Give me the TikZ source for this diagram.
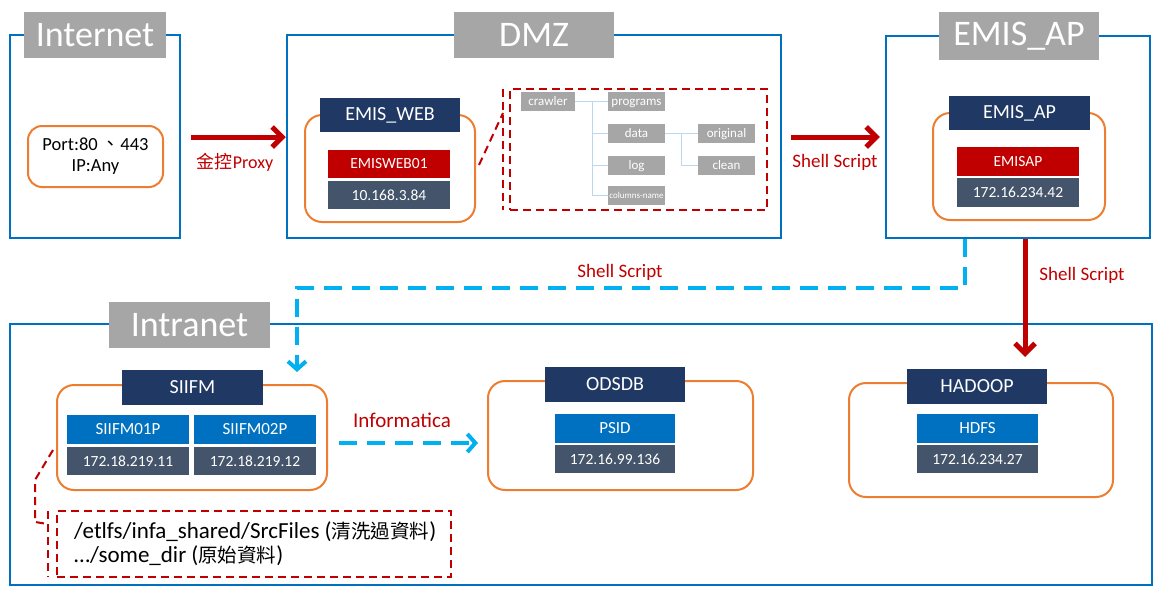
\documentclass[tikz,border=0pt]{standalone}
\usepackage{fontspec}
\setmainfont{Carlito}
\newfontfamily\cjk{Noto Sans CJK TC}
\usetikzlibrary{arrows.meta}
\definecolor{frameblue}{HTML}{0070C0}
\definecolor{titlegray}{HTML}{A6A6A6}
\definecolor{orng}{HTML}{ED7D31}
\definecolor{navy}{HTML}{203864}
\definecolor{srvred}{HTML}{C00000}
\definecolor{slate}{HTML}{44546A}
\definecolor{hostblue}{HTML}{0070C0}
\definecolor{lblue}{HTML}{00B0F0}
\definecolor{treegray}{HTML}{A6A6A6}
\definecolor{treeline}{HTML}{BDD7EE}
\begin{document}
\begin{tikzpicture}[x=1pt,y=-1pt,
  frame/.style={draw=frameblue, line width=2.5pt, inner sep=0pt},
  zonetitle/.style={fill=titlegray, text=white, inner sep=0pt, font=\fontsize{36}{38}\selectfont},
  group/.style={draw=orng, line width=2pt, rounded corners=17pt, fill=white, inner sep=0pt},
  hdr/.style={fill=navy, text=white, inner sep=0pt, minimum width=140pt, minimum height=34pt, font=\fontsize{20}{22}\selectfont},
  srv/.style={fill=srvred, text=white, inner sep=0pt, minimum width=122pt, minimum height=28pt, font=\fontsize{15.5}{17}\selectfont},
  host/.style={fill=hostblue, text=white, inner sep=0pt, minimum width=122pt, minimum height=29pt, font=\fontsize{17}{19}\selectfont},
  ip/.style={fill=slate, text=white, inner sep=0pt, minimum width=122pt, minimum height=28pt, font=\fontsize{15.5}{17}\selectfont},
  tbox/.style={fill=treegray, text=white, inner sep=0pt, minimum width=57pt, minimum height=19pt, text height=10pt, text depth=1.5pt, font=\fontsize{13}{15}\selectfont},
  tline/.style={draw=treeline, line width=1pt},
  redarrow/.style={draw=srvred, line width=5pt, -{Straight Barb[length=10pt,width=20pt]}},
  bluearrow/.style={draw=lblue, line width=4pt, dash pattern=on 18pt off 10pt, -{Straight Barb[length=8pt,width=18pt]}},
  lbl/.style={text=srvred, font=\fontsize{19}{21}\selectfont},
  callout/.style={draw=srvred, line width=2pt, dash pattern=on 8pt off 5pt}
]
\useasboundingbox (0,0) rectangle (1164,595);

% ---------------- Internet ----------------
\node[frame, minimum width=170pt, minimum height=203pt] (inet) at (95,136.5) {};
\node[zonetitle, minimum width=142pt, minimum height=46pt] (inettitle) at (95,35) {Internet};
\node[group, rounded corners=14pt, minimum width=135pt, minimum height=61pt, align=center, font=\fontsize{18.5}{21}\selectfont] (port) at (95.5,156.5) {Port:80 {\cjk 、}443\\IP:Any};

% ---------------- DMZ ----------------
\node[frame, minimum width=494pt, minimum height=203pt] (dmz) at (534,136.5) {};
\node[zonetitle, minimum width=160pt, minimum height=46pt] (dmztitle) at (534,35) {DMZ};
\node[group, minimum width=170pt, minimum height=107pt] (webgrp) at (390,168.5) {};
\node[hdr] (webhdr) at (390,115) {EMIS\_WEB};
\node[srv] (websrv) at (389,164) {EMISWEB01};
\node[ip] (webip) at (389,195) {10.168.3.84};

% directory tree callout
\node[callout, minimum width=257pt, minimum height=121pt, inner sep=0pt] (tree) at (638.5,149.5) {};
\coordinate (treeL1) at (503,89);
\coordinate (treeL2) at (503,210);
\draw[callout] (treeL1) -- (treeL2);
\coordinate (webcall) at (479,165);
\coordinate (treecall) at (503,113);
\draw[callout] (webcall) -- (treecall);

\node[tbox, minimum width=54pt] (crawler) at (548,101.5) {crawler};
\node[tbox] (programs) at (636.5,101.5) {programs};
\node[tbox] (data) at (636.5,133.5) {data};
\node[tbox] (log) at (636.5,165.5) {log};
\node[tbox, font=\fontsize{9}{11}\selectfont, text height=7pt, text depth=1pt] (colname) at (636.5,195.5) {columns-name};
\node[tbox] (original) at (726.5,133.5) {original};
\node[tbox] (clean) at (726.5,165.5) {clean};
\draw[tline] (crawler.east) -- (programs.west);
\draw[tline] (592,101.5) |- (data.west);
\draw[tline] (592,101.5) |- (log.west);
\draw[tline] (592,101.5) |- (colname.west);
\draw[tline] (data.east) -- (original.west);
\draw[tline] (681,133.5) |- (clean.west);

% ---------------- EMIS_AP ----------------
\node[frame, minimum width=264pt, minimum height=202pt] (ap) at (1018,137) {};
\node[zonetitle, minimum width=160pt, minimum height=48pt] (aptitle) at (1019,36) {EMIS\_AP};
\node[group, minimum width=172pt, minimum height=107pt] (apgrp) at (1019,166.5) {};
\node[hdr, minimum width=141pt] (aphdr) at (1019.5,113) {EMIS\_AP};
\node[srv, minimum height=29pt] (apsrv) at (1018,161.5) {EMISAP};
\node[ip, minimum height=29pt] (apip) at (1018,192.5) {172.16.234.42};

% ---------------- arrows top ----------------
\coordinate (a1s) at (190,137);
\draw[redarrow] (inet.east |- a1s) ++(10,0) -- (dmz.west |- a1s);
\node[lbl, font=\fontsize{18}{20}\selectfont] (lblproxy) at (235,162) {{\cjk 金控}Proxy};
\draw[redarrow] ([xshift=9pt]dmz.east |- a1s) -- ([xshift=-5pt]ap.west |- a1s);
\node[lbl] (lblss1) at (835,162) {Shell Script};

% ---------------- Intranet ----------------
\node[frame, minimum width=1142pt, minimum height=261pt] (intra) at (581,454.5) {};
\node[zonetitle, minimum width=161pt, minimum height=46pt] (intratitle) at (189.5,325) {Intranet};

% SIIFM
\node[group, minimum width=270pt, minimum height=105pt] (sigrp) at (192,437.5) {};
\node[hdr, minimum width=141pt, minimum height=35pt] (sihdr) at (192.5,387.5) {SIIFM};
\node[host] (si1) at (128,429.5) {SIIFM01P};
\node[host] (si2) at (255,429.5) {SIIFM02P};
\node[ip] (si1ip) at (128,461) {172.18.219.11};
\node[ip] (si2ip) at (255,461) {172.18.219.12};

% ODSDB
\node[group, minimum width=265pt, minimum height=109pt] (odsgrp) at (620.5,435.5) {};
\node[hdr, minimum height=35pt] (odshdr) at (615,384.5) {ODSDB};
\node[host, minimum width=120pt] (psid) at (615,428.5) {PSID};
\node[ip, minimum width=120pt] (psidip) at (615,459) {172.16.99.136};

% HADOOP
\node[group, minimum width=264pt, minimum height=114pt] (hdgrp) at (981,440) {};
\node[hdr, minimum height=35pt] (hdhdr) at (977,386.5) {HADOOP};
\node[host, minimum width=121pt] (hdfs) at (977.5,428.5) {HDFS};
\node[ip, minimum width=121pt] (hdfsip) at (977.5,459) {172.16.234.27};

% Informatica arrow
\draw[bluearrow] ([xshift=11pt]sigrp.east |- 0,443) -- ([xshift=-9pt]odsgrp.west |- 0,443);
\node[lbl, font=\fontsize{21}{23}\selectfont] (lblinfa) at (402,420) {Informatica};

% EMIS_AP -> SIIFM (dashed blue)
\draw[bluearrow] (ap.south -| 965,0) -- (965,288) -| (297,372);
\node[lbl] (lblss2) at (620,272) {Shell Script};

% EMIS_AP -> HADOOP (red)
\draw[redarrow] (ap.south -| 1025,0) -- (1025,357);
\node[lbl] (lblss3) at (1082,275) {Shell Script};

% SIIFM callout
\node[callout, minimum width=394pt, minimum height=66pt, inner sep=0pt] (paths) at (254,544) {};
\coordinate (pL1) at (48,511);
\coordinate (pL2) at (48,577);
\draw[callout] (pL1) -- (pL2);
\coordinate (sicall) at (53,450);
\draw[callout] (sicall) -- (35,480) -- (35,522) -- (48,524);
\node[anchor=west, align=left, inner sep=0pt, font=\fontsize{23}{24}\selectfont] (pathtxt) at (74,544)
  {/etlfs/infa\_shared/SrcFiles ({\cjk\fontsize{19.5}{24}\selectfont 清洗過資料})\\…/some\_dir ({\cjk\fontsize{19.5}{24}\selectfont 原始資料})};
\end{tikzpicture}
\end{document}
